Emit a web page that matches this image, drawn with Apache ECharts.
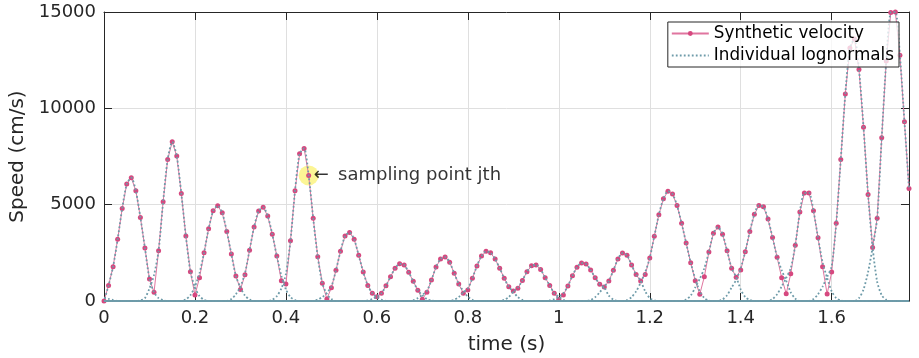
<!DOCTYPE html>
<html>
<head>
<meta charset="utf-8">
<script src="https://cdn.jsdelivr.net/npm/echarts@6/dist/echarts.min.js"></script>
<style>
html, body { margin: 0; padding: 0; background: #fff; }
#chart { width: 919px; height: 358px; }
</style>
</head>
<body>
<div id="chart"></div>
<script>
// sampling grid (s)
const sampleStep = 0.01
const timeRange = [0, 1.77]
const speedRange = [0, 15000]
const timeInterval = 0.2
const speedInterval = 5000

// synthetic velocity, one value per sample from t = 0
const syntheticVelocity = [
    0, 810, 1780, 3200, 4800, 6070, 6400, 5720, 4340, 2750,
    1140, 450, 2610, 5150, 7350, 8260, 7520, 5580, 3370, 1520,
    310, 1210, 2500, 3750, 4680, 4940, 4580, 3610, 2440, 1300,
    600, 1360, 2640, 3840, 4670, 4860, 4410, 3470, 2330, 1050,
    880, 3130, 5720, 7640, 7920, 6520, 4290, 2300, 920, 110,
    690, 1590, 2580, 3370, 3560, 3210, 2370, 1500, 810, 400,
    220, 400, 790, 1260, 1700, 1930, 1870, 1490, 1020, 560,
    90, 450, 1090, 1760, 2180, 2280, 2010, 1440, 880, 400,
    570, 1180, 1820, 2330, 2580, 2500, 2180, 1700, 1180, 740,
    520, 660, 1070, 1520, 1830, 1870, 1640, 1210, 810, 400,
    90, 310, 780, 1310, 1750, 1970, 1920, 1610, 1210, 870,
    730, 1040, 1590, 2180, 2490, 2370, 1870, 1370, 1040, 1370,
    2230, 3360, 4480, 5310, 5700, 5550, 4960, 4030, 3010, 1990,
    1050, 350, 1260, 2540, 3510, 3840, 3470, 2610, 1700, 1230,
    1610, 2560, 3610, 4500, 4960, 4890, 4250, 3300, 2270, 1210,
    380, 1420, 2900, 4620, 5610, 5610, 4680, 3280, 1780, 360,
    1500, 4030, 7350, 10750, 13130, 13600, 12010, 9020, 5530, 2780,
    4290, 8470, 12460, 14980, 15000, 12760, 9300, 5840
]

// individual lognormals: start time + values sampled every 0.01 s
const lognormalStarts = [
    0.00, 0.00, 0.07, 0.17, 0.27, 0.36, 0.46, 0.57, 0.67, 0.76,
    0.87, 0.97, 1.06, 1.14, 1.27, 1.35, 1.46, 1.55, 1.65
]
const lognormalValues = [
    [150, 110, 50, 0],
    [0, 810, 1780, 3200, 4800, 6070, 6400, 5720, 4340, 2750, 1140, 450, 150, 40, 0],
    [0, 30, 150, 650, 1350, 2610, 5150, 7350, 8260, 7520, 5580, 3370, 1520, 700, 250, 60, 0],
    [0, 80, 300, 750, 1450, 2500, 3750, 4680, 4940, 4580, 3610, 2440, 1300, 700, 280, 80, 0],
    [0, 100, 350, 750, 1450, 2640, 3840, 4670, 4860, 4410, 3470, 2330, 1300, 600, 200, 50, 0],
    [0, 60, 250, 650, 1400, 3130, 5720, 7640, 7920, 6520, 4290, 2300, 920, 350, 100, 0],
    [0, 80, 200, 420, 750, 1590, 2580, 3370, 3560, 3210, 2370, 1500, 810, 400, 200, 70, 10, 0],
    [0, 30, 100, 230, 400, 790, 1260, 1700, 1930, 1870, 1490, 1020, 560, 300, 100, 20, 0],
    [0, 40, 150, 320, 520, 1090, 1760, 2180, 2280, 2010, 1440, 880, 520, 220, 60, 0],
    [0, 60, 200, 450, 650, 1180, 1820, 2330, 2580, 2500, 2180, 1700, 1180, 740, 480, 200, 60, 0],
    [0, 60, 200, 480, 700, 1070, 1520, 1830, 1870, 1640, 1210, 810, 400, 220, 60, 0],
    [0, 30, 100, 220, 400, 780, 1310, 1750, 1970, 1920, 1610, 1210, 870, 700, 280, 70, 0],
    [0, 50, 200, 450, 750, 1040, 1590, 2180, 2490, 2370, 1870, 1370, 1050, 500, 150, 30, 0],
    [0, 50, 200, 500, 950, 1500, 2230, 3360, 4480, 5310, 5700, 5550, 4960, 4030, 3010, 1990, 1150, 500, 150, 30, 0],
    [0, 80, 280, 700, 1150, 1700, 2540, 3510, 3840, 3470, 2610, 1700, 1250, 600, 200, 50, 0],
    [0, 80, 300, 700, 1100, 1700, 2560, 3610, 4500, 4960, 4890, 4250, 3300, 2270, 1600, 1050, 450, 120, 0],
    [0, 100, 350, 750, 1200, 1700, 2900, 4620, 5610, 5610, 4680, 3280, 2000, 1200, 500, 150, 30, 0],
    [0, 100, 350, 750, 1250, 1800, 4030, 7350, 10750, 13130, 13600, 12010, 9020, 5530, 2780, 1000, 300, 60, 0],
    [0, 150, 600, 1500, 2780, 4290, 8470, 12460, 14980, 15000, 12760, 9300, 5840]
]

// highlighted sample
const highlightPoint = [0.45, 6520]
const highlightText = '\u2190 \u2009sampling point jth'

const fontFamily = 'DejaVu Sans'
const axisColor = '#262626'

const toPoints = (start, values) => values.map((v, i) => [+(start + i * sampleStep).toFixed(2), v])

const velocityPoints = toPoints(0, syntheticVelocity)

const lognormalSeries = lognormalValues.map((vals, i) => {
    let pts = toPoints(lognormalStarts[i], vals)
    // tails sit on zero along the whole axis
    if (pts[0][0] > timeRange[0]) pts.unshift([timeRange[0], 0])
    if (pts[pts.length - 1][0] < timeRange[1]) pts.push([timeRange[1], 0])
    return {
        name: 'Individual lognormals',
        type: 'line',
        data: pts,
        symbol: 'none',
        showSymbol: false,
        smooth: 0.25,
        silent: true,
        lineStyle: {
            color: '#6e9ba9',
            width: 1.8,
            type: [1.8, 2.2],
            dashOffset: (i * 1.37) % 4
        },
        itemStyle: { color: '#6e9ba9' },
        z: 3
    }
})

const xAxisBase = {
    type: 'value',
    min: timeRange[0],
    max: timeRange[1],
    interval: timeInterval,
    axisLine: { show: true, onZero: false, lineStyle: { color: axisColor, width: 1 } },
    axisTick: { show: true, inside: true, length: 8, lineStyle: { color: axisColor } },
}
const yAxisBase = {
    type: 'value',
    min: speedRange[0],
    max: speedRange[1],
    interval: speedInterval,
    axisLine: { show: true, onZero: false, lineStyle: { color: axisColor, width: 1 } },
    axisTick: { show: true, inside: true, length: 8, lineStyle: { color: axisColor } },
}

const option = {
    animation: false,
    backgroundColor: '#fff',
    grid: { left: 104, right: 10, top: 12, bottom: 57, containLabel: false, outerBoundsMode: 'none' },
    legend: {
        data: [
            { name: 'Synthetic velocity' },
            { name: 'Individual lognormals', itemStyle: { opacity: 0 } }
        ],
        orient: 'vertical',
        right: 20,
        top: 22,
        itemWidth: 37,
        itemHeight: 6,
        itemGap: 5,
        padding: [3, 5, 3, 3],
        backgroundColor: 'rgba(255,255,255,0.75)',
        borderColor: axisColor,
        borderWidth: 1,
        borderRadius: 0,
        selectedMode: false,
        textStyle: { fontSize: 16.8, color: '#000', fontFamily }
    },
    xAxis: [
        Object.assign({}, xAxisBase, {
            position: 'bottom',
            name: 'time (s)',
            nameLocation: 'middle',
            nameGap: 34,
            nameTextStyle: { fontSize: 20, color: axisColor, fontFamily },
            axisLabel: { color: axisColor, fontSize: 18, fontFamily, margin: 8, showMaxLabel: false },
            splitLine: { show: true, lineStyle: { color: '#dfdfdf', width: 1 } }
        }),
        Object.assign({}, xAxisBase, {
            position: 'top',
            axisLabel: { show: false },
            splitLine: { show: false }
        })
    ],
    yAxis: [
        Object.assign({}, yAxisBase, {
            position: 'left',
            name: 'Speed (cm/s)',
            nameLocation: 'middle',
            nameGap: 52,
            nameTextStyle: { fontSize: 20, color: axisColor, fontFamily },
            axisLabel: { color: axisColor, fontSize: 18, fontFamily, margin: 8, formatter: v => String(v) },
            splitLine: { show: true, lineStyle: { color: '#dfdfdf', width: 1 } }
        }),
        Object.assign({}, yAxisBase, {
            position: 'right',
            axisLabel: { show: false },
            splitLine: { show: false }
        })
    ],
    series: [
        {
            name: 'highlight',
            type: 'scatter',
            data: [highlightPoint],
            symbolSize: 20,
            silent: true,
            itemStyle: { color: 'rgba(250,236,60,0.68)' },
            label: {
                show: true,
                position: 'right',
                distance: -5,
                formatter: highlightText,
                fontSize: 18,
                color: '#000',
                fontFamily
            },
            z: 1
        },
        {
            name: 'Synthetic velocity',
            type: 'line',
            data: velocityPoints,
            symbol: 'circle',
            symbolSize: 5,
            showAllSymbol: true,
            lineStyle: { color: '#e0759f', width: 1 },
            itemStyle: { color: '#d6487f' },
            z: 2
        }
    ].concat(lognormalSeries)
}

const myChart = echarts.init(document.getElementById('chart'))
myChart.setOption(option)
</script>
</body>
</html>
